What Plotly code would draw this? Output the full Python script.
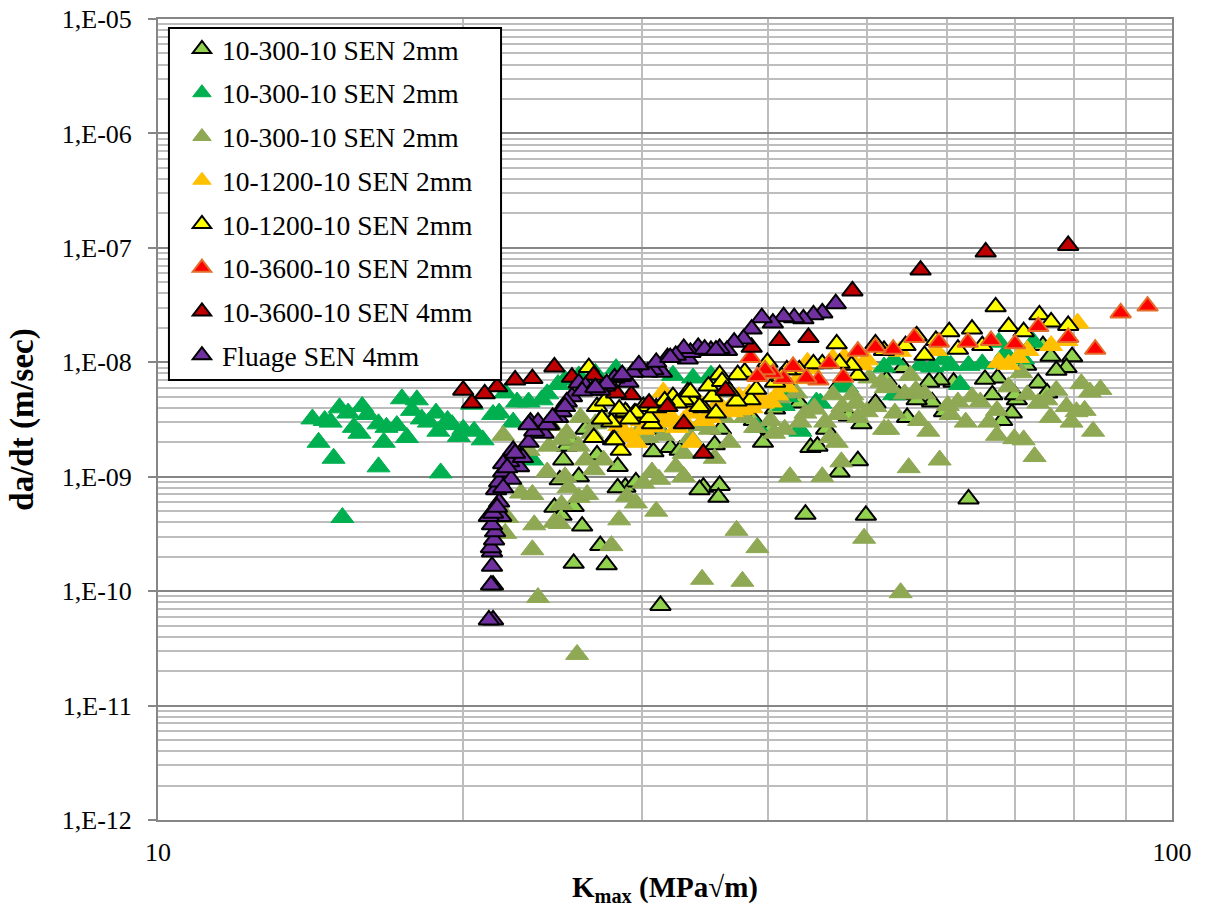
import plotly.graph_objects as go

light_k = [43.5,49.9,34.5,35.8,35.7,39.5,44,44.7,49,47,35.4,25.7,27.7,27.3,26.2,24.6,25,25.7,28.9,29.6,26,24.9,25.1,28.4,30.8,32,25.3,34.2,31.3,63,
           79.7,78.7,75.9,76.9,74.6,73.8,69.5,66.5,70.3,75.3,67.3,65.4,60.9,59,57.6,54.3,54.8,59.6,58,71.8,
           45.6,42.9,40.6,38.7,37.3,48,51,53.8,49.4,35.9,34.2,32.7,31.2,29.9,28.6,27.3,26.4,25.5,27.1,40.2,42,47,52.3,56,68,70,28.4]
light_y = [4.7e-10,4.6e-10,8.1e-10,8.4e-10,6.6e-10,2e-9,1.8e-9,1.85e-9,1.38e-9,1.1e-9,1.9e-9,1.75e-10,1.7e-10,2.5e-10,3.7e-10,5.4e-10,4.6e-10,5.5e-10,8.1e-10,9e-10,1e-9,9.4e-10,1.4e-9,1.23e-9,1.65e-9,1.8e-9,1.85e-9,7.7e-10,7.5e-11,6.4e-10,
           1.12e-8,9e-9,1.13e-8,8.5e-9,1.4e-8,6.6e-9,3.6e-9,5.2e-9,4.7e-9,5.4e-9,7.3e-9,7.1e-9,6.7e-9,7e-9,6.7e-9,9e-9,3.3e-9,3.7e-9,4.5e-9,9.4e-9,
           2.6e-9,4.4e-9,3.9e-9,3.1e-9,4.6e-9,3.4e-9,4.4e-9,5.2e-9,2.9e-9,2.6e-9,2.8e-9,1.7e-9,2.6e-9,2.1e-9,2.6e-9,3.1e-9,2.6e-9,2.1e-9,1.55e-9,2.6e-9,6e-9,6.4e-9,7e-9,4.7e-9,3.1e-9,5.2e-9,8e-10]

green_k = [14.2,14.4,14.6,14.8,14.9,15.1,15.2,15.4,15.6,15.8,15.9,16.1,16.5,16.5,16.7,16.8,17.2,17.6,17.4,18,17.8,18.2,18.5,18.8,18.9,19,19.3,19.5,19.8,20,20.5,20.9,20.4,21.4,21.7,22.4,22,22.6,23.2,23.9,24.2,24.8,23.4,
           61.8,60.5,63,65,58,56.5,53.2,59.5,73,71.3,67.5,68.5,53.2,32.2,33.7,35.1,42.9,44.6,39,52,47.8,41.7,41.4,43,45,47,25.2,26,27,28.3]
green_y = [3.2e-9,2e-9,3.1e-9,3e-9,1.45e-9,4e-9,4.4e-10,3.6e-9,2.7e-9,2.4e-9,4.1e-9,3.5e-9,1.22e-9,2.9e-9,2e-9,2.7e-9,2.8e-9,2.2e-9,4.8e-9,4.7e-9,3.8e-9,3.2e-9,3e-9,3.6e-9,2.5e-9,1.08e-9,3.1e-9,2.85e-9,2.25e-9,2.6e-9,2.5e-9,2.1e-9,4.3e-9,3.5e-9,3.6e-9,3e-9,5.4e-9,4.5e-9,4.5e-9,4.7e-9,5.3e-9,6.4e-9,1.4e-9,
           6.4e-9,9.4e-9,9.4e-9,9.7e-9,9.1e-9,9.4e-9,1.05e-8,1.05e-8,1.5e-8,1.07e-8,1.5e-8,1.2e-8,5.2e-9,7.7e-9,7.3e-9,7.7e-9,2.6e-9,4.5e-9,2.7e-9,9.1e-9,6.1e-9,5e-9,4.2e-9,2.5e-9,4.4e-9,6.1e-9,7e-9,7.6e-9,8e-9,8.8e-9]

olive_k = [25.9,23.7,34.4,37.7,54,49.7,37.2,39,28,23.4,23.5,24.6,24.9,28.5,31,25,26,26.5,29,29.6,30.1,31.2,30.7,33,32.4,26.9,27.5,26.4,24.2,23.4,22.8,22.1,22,25.2,25.4,26,26.1,25.3,24.3,21.9,23.2,
           42,45.2,47.2,36.6,35.4,33,33,46.7,46,41.5,40.2,37.9,36.1,43.5,44.4,45.5,49,51,52,53.3,47.3,46.3,42.6,48.4,41,51.7,50.3,52.7,
           55,59,73.2,71.4,69.9,67.2,62.6,57.5,56.3,52.5,66,67.2,60.5,64.7,61.5,63.5,60.1,57,54.5,55.9,52.2,55.2,69,71,72,73.8,75.2,76.9,75.9,78.7,79.6,80.5,82,83.6,81.4,83,85,
           30.4,44.3,28.6,30,27.5,34.2,27,28.8,31.5,33.5,35,38.8,40.5,43,46.8,48.8,50,25,24.4,26.8]
olive_y = [2.8e-11,8.8e-11,1.27e-10,1.22e-10,9.7e-11,2.9e-10,3.4e-10,2.4e-10,2.5e-10,2.3e-10,3.8e-10,4e-10,3.9e-10,4.2e-10,5e-10,5.7e-10,6.6e-10,7e-10,6.7e-10,5.9e-10,8.8e-10,9.5e-10,1.1e-9,1e-9,1.22e-9,1.15e-9,1.4e-9,1.4e-9,1.1e-9,7e-10,7.2e-10,4.4e-10,3.2e-10,1e-9,8e-10,1.85e-9,3.3e-9,2.4e-9,1.85e-9,2.3e-9,1.7e-9,
           1e-9,1e-9,1.35e-9,2e-9,1.45e-9,1.6e-9,1e-9,2e-9,2.2e-9,2.6e-9,3.1e-9,3.3e-9,3.3e-9,3.6e-9,4e-9,3e-9,3.3e-9,4.1e-9,2.6e-9,3.6e-9,4.1e-9,5.2e-9,5.4e-9,5.2e-9,4.9e-9,6.7e-9,7.3e-9,6.1e-9,
           1.2e-9,1.4e-9,1.5e-9,2.1e-9,2.15e-9,2.3e-9,3e-9,2.5e-9,3.1e-9,2.6e-9,3e-9,3.8e-9,3.5e-9,4.5e-9,4.5e-9,5e-9,4.2e-9,5.3e-9,5.3e-9,5.7e-9,6e-9,7.7e-9,6.1e-9,8.1e-9,5.2e-9,4.4e-9,4.7e-9,5.7e-9,3.3e-9,4.1e-9,3e-9,3.7e-9,3.8e-9,2.5e-9,6.5e-9,5.5e-9,5.8e-9,
           2.2e-9,3.9e-9,2.6e-9,2.7e-9,3.3e-9,2.8e-9,2.9e-9,2.4e-9,2.3e-9,2.2e-9,2.6e-9,2.7e-9,2.4e-9,3e-9,3.5e-9,4.4e-9,3.7e-9,2.1e-9,2.8e-9,2.4e-9]

orange_k = [80.7,76,72,67.5,69,70.5,78.7,33,40.2,38.3,37,35.7,33.7,29.3,28.9,31.8,32.5,31.5,43.7,46.3,50,41.7,39.2,37.7,30.1,30.8,29.6,34.2,53.9,58.5,
            33.5,35,36,38.5,39.5,40.8,31,32,34.5,36.8,37.4,41,42.8,44,47.5,48.5,49.5,28.5,30,31.2]
orange_y = [2.2e-8,1.4e-8,1.27e-8,1e-8,9.6e-9,1.1e-8,1.55e-8,3.1e-9,4.5e-9,5.3e-9,4.5e-9,4.4e-9,2e-9,2.25e-9,2.4e-9,3e-9,2.7e-9,5.5e-9,1e-8,1.08e-8,1.05e-8,6.1e-9,5e-9,3.85e-9,2.6e-9,2.75e-9,2e-9,4.4e-9,1.25e-8,1.27e-8,
            3.6e-9,3.3e-9,3.9e-9,4e-9,4.4e-9,5.2e-9,3.2e-9,3.4e-9,3.1e-9,3.7e-9,5e-9,6.7e-9,7.2e-9,8.8e-9,1.1e-8,1e-8,9.5e-9,2.8e-9,3.1e-9,3.7e-9]

yellow_k = [67,74,76,79,69,71.4,63.5,60.3,56,61.5,65,58.5,57,54.6,52,
            46.7,51,49,48.3,47,45.2,44.3,42.9,41.7,39.9,38.4,37.2,37.9,37.3,35.8,34.5,33.7,33.3,35.2,30.7,28.6,28.1,28,29,29.5,30.1,32.2,33,34.2,
            26.6,26.9,28.2,27.1,28.9,29.6,32.5,33.5,27.6,28.5,30.5,31,31.6,34.9,36,36.6,38.9,40.6,41.2,27.4,29.2,35.5]
yellow_y = [3.05e-8,2.6e-8,2.25e-8,2.1e-8,2.05e-8,1.85e-8,1.95e-8,1.85e-8,1.7e-8,1.3e-8,1.4e-8,1.55e-8,1.15e-8,1.4e-8,1.27e-8,
            1.45e-8,1.45e-8,7.7e-9,9.4e-9,9.8e-9,9.7e-9,9.7e-9,8.6e-9,8.6e-9,1e-8,4.7e-9,4.6e-9,8.2e-9,7.8e-9,7.8e-9,4e-9,4.5e-9,5.5e-9,5e-9,2.9e-9,1.7e-9,2.1e-9,3e-9,3.6e-9,3.6e-9,4.1e-9,5e-9,4.7e-9,4.1e-9,
            9e-9,2.2e-9,2.1e-9,4.1e-9,3.7e-9,3.6e-9,4.4e-9,5.5e-9,4.6e-9,3.9e-9,3.3e-9,4e-9,4.6e-9,6.2e-9,6.8e-9,5.6e-9,5.8e-9,6.7e-9,7.5e-9,3.2e-9,3.2e-9,3.6e-9]

red_k = [94.6,89,84,73.8,79,70,66.3,62.9,58.9,55.7,53.1,51,49,47.4,45.9,44.8,43.6,42.3,41.4,40.4,39.7,39,38.4]
red_y = [3.1e-8,2.7e-8,1.3e-8,2.05e-8,1.65e-8,1.45e-8,1.55e-8,1.5e-8,1.5e-8,1.65e-8,1.3e-8,1.35e-8,1.25e-8,7.4e-9,9.8e-9,7e-9,7.3e-9,9.2e-9,7.2e-9,8e-9,8.6e-9,7.5e-9,1.1e-8]

darkred_k = [79,65.5,56.5,48.4,43.8,41,38.5,24.6,23.4,22.5,21.6,21,20.4,20,25.6,26.9,29.3,30.5,31.8,33,34.5,36.3,28.3]
darkred_y = [1.05e-7,9.2e-8,6.4e-8,4.2e-8,1.65e-8,1.55e-8,1.35e-8,9.1e-9,7.2e-9,7e-9,6.1e-9,5.3e-9,4.4e-9,5.7e-9,7.4e-9,7.7e-9,5.2e-9,4.4e-9,4.1e-9,2.9e-9,1.6e-9,5.7e-9,5.4e-9]

purple_k = [21.4,21.2,21.4,21.3,21.35,21.35,21.3,21.45,21.5,21.35,21.8,21.2,21.7,21.4,21.55,22.2,21.7,21.9,22.8,23.2,22.7,22.2,22.4,21.9,24,24.3,24.9,25.6,23.3,23.7,24.8,26,26.4,26.8,25.3,22.9,22.3,
            24.2,25,23.5,23.2,27.6,29.1,28.2,29.9,31.4,30.8,32.6,33.3,30.4,29.4,28.6,27.3,
            46.6,45.2,44.3,43.3,42.4,41.4,40.4,39.4,38.5,37.8,37,36.4,35.8,35.1,34.1,33.5,33,32.4,31.8,29.8,28.7,27.7,
            21.6,21.9,22.1,22.5,24.5,25.2,26.2,27,31,32,34.6,35.5]
purple_y = [5.6e-11,5.6e-11,1.13e-10,1.13e-10,1.65e-10,2.2e-10,2.4e-10,2.8e-10,3.3e-10,3.8e-10,4.5e-10,4.5e-10,6e-10,4.8e-10,7.7e-10,9.8e-10,9e-10,1.1e-9,1.5e-9,2e-9,1.22e-9,1.35e-9,1.7e-9,1.3e-9,2.4e-9,2.85e-9,3.7e-9,5e-9,3e-9,3e-9,3.3e-9,6.6e-9,6.2e-9,5.7e-9,4.5e-9,1.47e-9,9.5e-10,
            2.85e-9,3.7e-9,2.5e-9,2.85e-9,6.2e-9,6.7e-9,7.3e-9,9e-9,8.2e-9,8.6e-9,1.15e-8,1.07e-8,8.2e-9,8.2e-9,7.5e-9,5.7e-9,
            3.25e-8,2.7e-8,2.6e-8,2.4e-8,2.45e-8,2.5e-8,2.2e-8,2.45e-8,1.95e-8,1.6e-8,1.5e-8,1.27e-8,1.32e-8,1.27e-8,1.35e-8,1.22e-8,1.32e-8,1.15e-8,1.1e-8,9.5e-9,7.8e-9,6.5e-9,
            5.4e-10,8e-10,1.2e-9,1.6e-9,3.3e-9,4.1e-9,5.6e-9,6e-9,1e-8,1.1e-8,1.3e-8,1.28e-8]

names = ["10-300-10 SEN 2mm","10-300-10 SEN 2mm","10-300-10 SEN 2mm","10-1200-10 SEN 2mm",
         "10-1200-10 SEN 2mm","10-3600-10 SEN 2mm","10-3600-10 SEN 4mm","Fluage SEN 4mm"]
y_tick_vals = [1e-12,1e-11,1e-10,1e-9,1e-8,1e-7,1e-6,1e-5]
y_tick_text = ["1,E-12","1,E-11","1,E-10","1,E-09","1,E-08","1,E-07","1,E-06","1,E-05"]
x_tick_vals = [10,100]
x_tick_text = ["10","100"]
x_minor = [20,30,40,50,60,70,80,90]
y_minor = [m*10.0**e for e in range(-12,-5) for m in range(2,10)]

series = [
    (light_k, light_y, "#92D050", "#000000", 2, 18),
    (green_k, green_y, "#00B050", "#00B050", 1, 20),
    (olive_k, olive_y, "#8EA853", "#8EA853", 1, 20),
    (orange_k, orange_y, "#FFC000", "#FFC000", 1, 20),
    (yellow_k, yellow_y, "#FFFF00", "#000000", 2, 18),
    (red_k, red_y, "#FF0000", "#E46C2A", 2, 18),
    (darkred_k, darkred_y, "#C00000", "#000000", 2, 18),
    (purple_k, purple_y, "#7030A0", "#000000", 2, 18),
]
SERIF = "Liberation Serif"
fig = go.Figure()
for i, (xs, ys, fc, lc, lw, sz) in enumerate(series):
    fig.add_trace(go.Scatter(x=xs, y=ys, mode="markers", name=names[i], legendgroup=f"g{i}",
        marker=dict(symbol="triangle-up", size=sz, color=fc, line=dict(color=lc, width=lw))))

GRID_MAJOR = "#868686"
GRID_MINOR = "#BDBDBD"
fig.update_layout(
    width=1205, height=908, margin=dict(l=158, r=33, t=19, b=88, autoexpand=False),
    paper_bgcolor="white", plot_bgcolor="white",
    font=dict(family=SERIF, size=26, color="#000000"),
    shapes=[dict(type="rect", xref="paper", yref="paper", x0=0.0108, x1=0.3383, y0=0.5493, y1=0.9888,
                 fillcolor="white", line=dict(color="#000000", width=2), layer="above")],
    legend=dict(x=0.0108, y=0.993, xanchor="left", yanchor="top", bgcolor="rgba(0,0,0,0)",
                borderwidth=0, traceorder="grouped", tracegroupgap=5,
                indentation=13, font=dict(family=SERIF, size=27.5)),
    annotations=[dict(text="<b>K<sub>max</sub> (MPa√m)</b>", xref="paper", yref="paper", x=0.5, y=-0.0865,
                      xanchor="center", yanchor="middle", showarrow=False, font=dict(family=SERIF, size=29))],
    xaxis=dict(type="log", range=[1,2], tickmode="array", tickvals=x_tick_vals, ticktext=x_tick_text,
               showgrid=True, gridcolor=GRID_MINOR, gridwidth=2, showline=True, mirror=True,
               linecolor=GRID_MAJOR, linewidth=2, ticks="", ticklabelstandoff=8, zeroline=False,
               minor=dict(tickmode="array", tickvals=x_minor, showgrid=True, gridcolor=GRID_MINOR, gridwidth=2, ticks="")),
    yaxis=dict(type="log", range=[-12,-5], tickmode="array", tickvals=y_tick_vals, ticktext=y_tick_text,
               showgrid=True, gridcolor=GRID_MAJOR, gridwidth=2, showline=True, mirror=True,
               linecolor=GRID_MAJOR, linewidth=2, ticks="outside", ticklen=8, tickwidth=2, tickcolor=GRID_MAJOR,
               ticklabelstandoff=11, zeroline=False,
               minor=dict(tickmode="array", tickvals=y_minor, showgrid=True, gridcolor=GRID_MINOR, gridwidth=2, ticks=""),
               title=dict(text="<b>da/dt (m/sec)</b>", standoff=18, font=dict(family=SERIF, size=33))),
)
fig.write_html("out.html", config={"displayModeBar": False}, post_script="document.body.style.margin='0';")
